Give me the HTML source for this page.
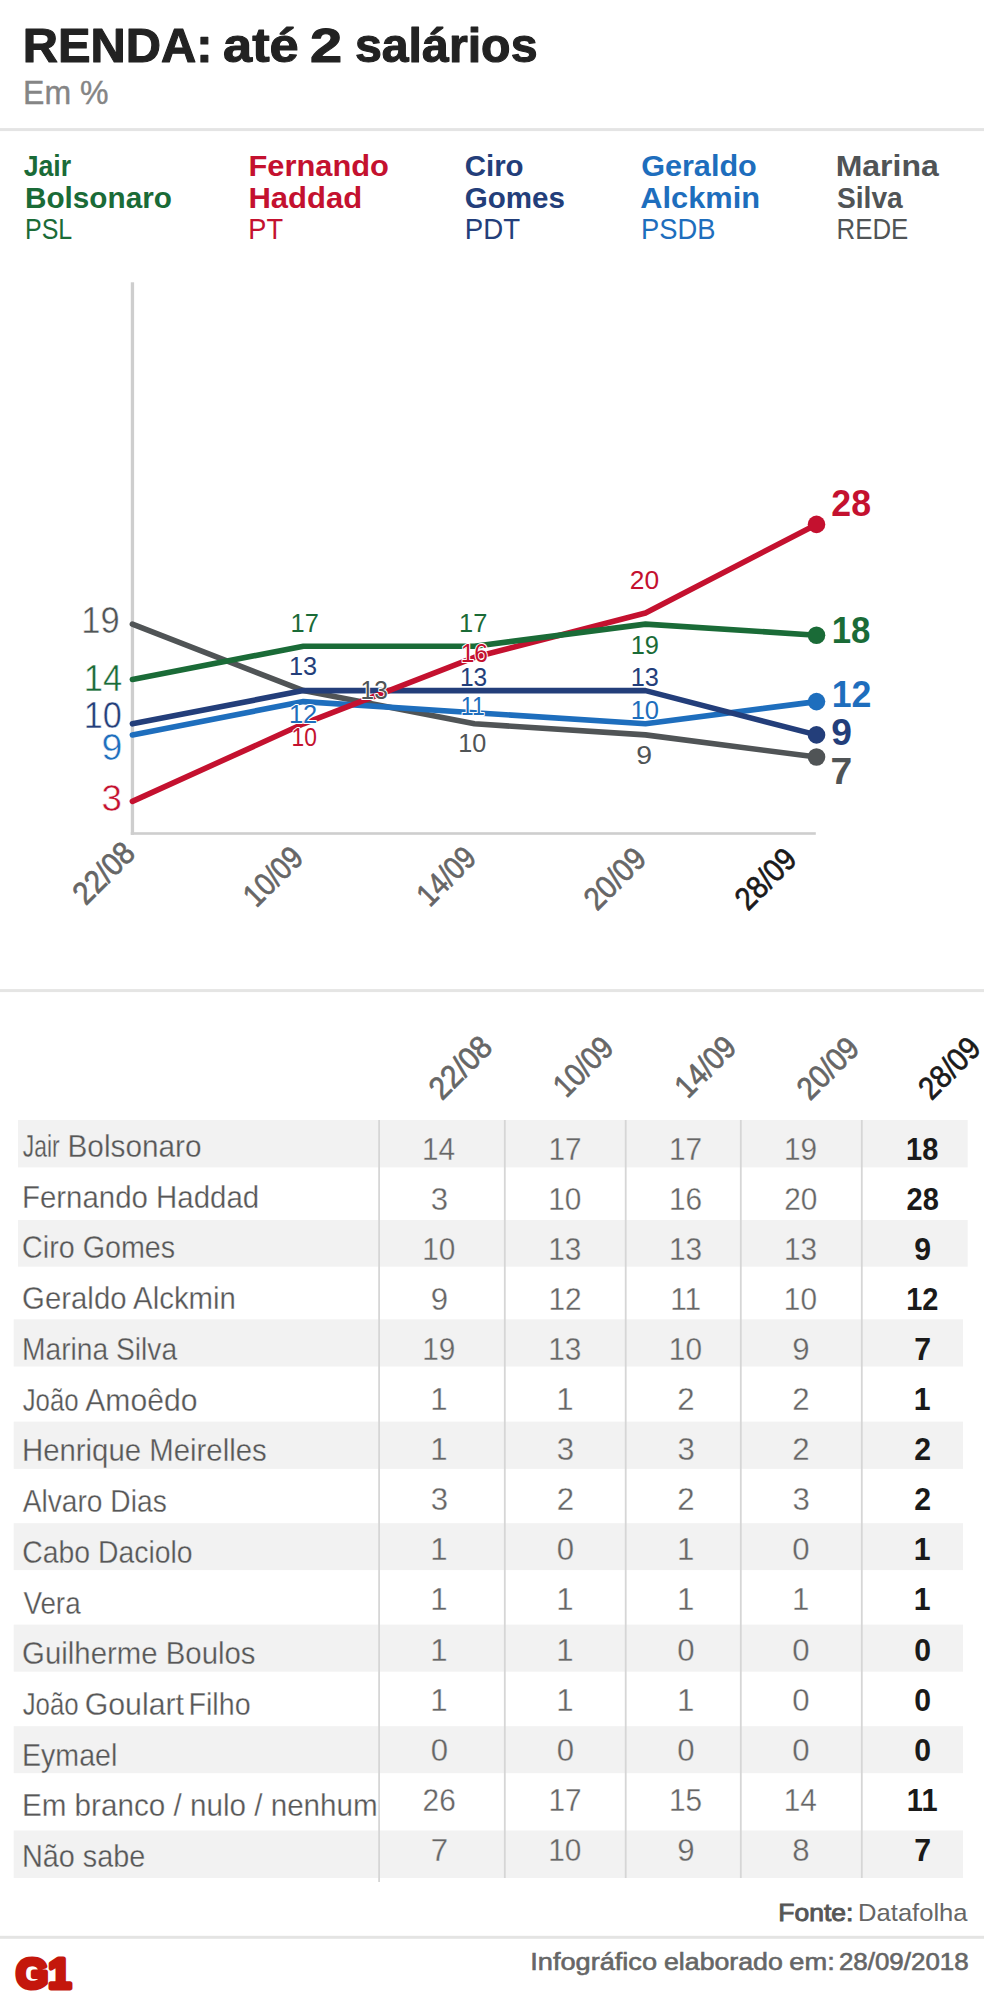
<!DOCTYPE html>
<html lang="pt-BR"><head><meta charset="utf-8"><title>RENDA: até 2 salários</title>
<style>
html,body{margin:0;padding:0;background:#fff;}
body{width:984px;height:2012px;overflow:hidden;}
svg{display:block;font-family:"Liberation Sans",sans-serif;}
.b{font-weight:bold;}
.ol{paint-order:stroke;stroke:#fff;stroke-width:2.1px;stroke-linejoin:round;}
.hv{paint-order:stroke;stroke:#222;stroke-width:1.1px;stroke-linejoin:round;}
</style></head><body>
<svg width="984" height="2012" viewBox="0 0 984 2012">
<rect width="984" height="2012" fill="#fff"/>
<text y="62.2" font-size="48.8" fill="#222" class="b hv"><tspan x="22.75" textLength="189.83" lengthAdjust="spacingAndGlyphs">RENDA:</tspan> <tspan x="223.02" textLength="75.68" lengthAdjust="spacingAndGlyphs">até</tspan> <tspan x="310.07" textLength="32.13" lengthAdjust="spacingAndGlyphs">2</tspan> <tspan x="354.89" textLength="182.63" lengthAdjust="spacingAndGlyphs">salários</tspan></text>
<text x="23.08" y="104" font-size="33.4" fill="#858585" textLength="85.51" lengthAdjust="spacingAndGlyphs" stroke="#858585" stroke-width="0.4">Em %</text>
<rect x="0" y="128.1" width="984" height="3" fill="#e4e4e4"/>
<text x="23.67" y="176" font-size="30.2" fill="#1a6b37" class="b" textLength="47.53" lengthAdjust="spacingAndGlyphs">Jair</text>
<text x="25.04" y="207.5" font-size="30.2" fill="#1a6b37" class="b" textLength="146.83" lengthAdjust="spacingAndGlyphs">Bolsonaro</text>
<text x="25.04" y="239.2" font-size="30.2" fill="#1a6b37" textLength="47.23" lengthAdjust="spacingAndGlyphs">PSL</text>
<text x="248.46" y="176" font-size="30.2" fill="#c4112f" class="b" textLength="140.42" lengthAdjust="spacingAndGlyphs">Fernando</text>
<text x="248.45" y="207.5" font-size="30.2" fill="#c4112f" class="b" textLength="113.83" lengthAdjust="spacingAndGlyphs">Haddad</text>
<text x="248.37" y="239.2" font-size="30.2" fill="#c4112f" textLength="34.72" lengthAdjust="spacingAndGlyphs">PT</text>
<text x="464.70" y="176" font-size="30.2" fill="#233e7a" class="b" textLength="58.89" lengthAdjust="spacingAndGlyphs">Ciro</text>
<text x="464.70" y="207.5" font-size="30.2" fill="#233e7a" class="b" textLength="100.25" lengthAdjust="spacingAndGlyphs">Gomes</text>
<text x="464.83" y="239.2" font-size="30.2" fill="#233e7a" textLength="55.24" lengthAdjust="spacingAndGlyphs">PDT</text>
<text x="641.16" y="176" font-size="30.2" fill="#1e6ebd" class="b" textLength="115.61" lengthAdjust="spacingAndGlyphs">Geraldo</text>
<text x="640.24" y="207.5" font-size="30.2" fill="#1e6ebd" class="b" textLength="119.80" lengthAdjust="spacingAndGlyphs">Alckmin</text>
<text x="641.05" y="239.2" font-size="30.2" fill="#1e6ebd" textLength="74.40" lengthAdjust="spacingAndGlyphs">PSDB</text>
<text x="835.68" y="176" font-size="30.2" fill="#505456" class="b" textLength="103.15" lengthAdjust="spacingAndGlyphs">Marina</text>
<text x="836.98" y="207.5" font-size="30.2" fill="#505456" class="b" textLength="65.79" lengthAdjust="spacingAndGlyphs">Silva</text>
<text x="836.57" y="239.2" font-size="30.2" fill="#505456" textLength="71.72" lengthAdjust="spacingAndGlyphs">REDE</text>
<rect x="130.8" y="282.3" width="3.3" height="552.5" fill="#cecece"/>
<rect x="130.8" y="832.2" width="685" height="2.6" fill="#cecece"/>
<polyline points="132.4,624.1 303.4,690.6 474.5,723.8 645.5,734.9 816.5,757.0" fill="none" stroke="#505456" stroke-width="5.6" stroke-linejoin="round" stroke-linecap="round"/>
<polyline points="132.4,734.9 303.4,701.6 474.5,712.7 645.5,723.8 816.5,701.6" fill="none" stroke="#1e6ebd" stroke-width="5.6" stroke-linejoin="round" stroke-linecap="round"/>
<polyline points="132.4,723.8 303.4,690.6 474.5,690.6 645.5,690.6 816.5,734.9" fill="none" stroke="#233e7a" stroke-width="5.6" stroke-linejoin="round" stroke-linecap="round"/>
<polyline points="132.4,801.4 303.4,723.8 474.5,657.3 645.5,613.0 816.5,524.4" fill="none" stroke="#c4112f" stroke-width="5.6" stroke-linejoin="round" stroke-linecap="round"/>
<polyline points="132.4,679.5 303.4,646.2 474.5,646.2 645.5,624.1 816.5,635.2" fill="none" stroke="#1a6b37" stroke-width="5.6" stroke-linejoin="round" stroke-linecap="round"/>
<circle cx="816.5" cy="757.0" r="8.8" fill="#505456"/>
<circle cx="816.5" cy="701.6" r="8.8" fill="#1e6ebd"/>
<circle cx="816.5" cy="734.9" r="8.8" fill="#233e7a"/>
<circle cx="816.5" cy="524.4" r="8.8" fill="#c4112f"/>
<circle cx="816.5" cy="635.2" r="8.8" fill="#1a6b37"/>
<text x="81.25" y="633" font-size="37.2" fill="#505456" textLength="38.41" lengthAdjust="spacingAndGlyphs" stroke="#fff" stroke-width="0.5">19</text>
<text x="83.75" y="690.5" font-size="37.2" fill="#1a6b37" textLength="38.43" lengthAdjust="spacingAndGlyphs" stroke="#fff" stroke-width="0.5">14</text>
<text x="83.78" y="728" font-size="37.2" fill="#233e7a" textLength="38.02" lengthAdjust="spacingAndGlyphs" stroke="#fff" stroke-width="0.5">10</text>
<text x="101.46" y="760" font-size="37.2" fill="#1e6ebd" textLength="20.87" lengthAdjust="spacingAndGlyphs" stroke="#fff" stroke-width="0.5">9</text>
<text x="101.44" y="811" font-size="37.2" fill="#c4112f" textLength="20.43" lengthAdjust="spacingAndGlyphs" stroke="#fff" stroke-width="0.5">3</text>
<text x="290.56" y="632" font-size="26.2" fill="#1a6b37" class="ol" textLength="28.30" lengthAdjust="spacingAndGlyphs">17</text>
<text x="288.97" y="674.8" font-size="26.2" fill="#233e7a" class="ol" textLength="28.17" lengthAdjust="spacingAndGlyphs">13</text>
<text x="288.96" y="723.2" font-size="26.2" fill="#1e6ebd" class="ol" textLength="28.30" lengthAdjust="spacingAndGlyphs">12</text>
<text x="291.56" y="746" font-size="26.2" fill="#c4112f" class="ol" textLength="25.36" lengthAdjust="spacingAndGlyphs">10</text>
<text x="360.53" y="698.5" font-size="26.2" fill="#505456" class="ol" textLength="27.27" lengthAdjust="spacingAndGlyphs">13</text>
<text x="459.06" y="632" font-size="26.2" fill="#1a6b37" class="ol" textLength="28.30" lengthAdjust="spacingAndGlyphs">17</text>
<text x="460.73" y="662.3" font-size="26.2" fill="#c4112f" class="ol" textLength="27.27" lengthAdjust="spacingAndGlyphs">16</text>
<text x="459.93" y="685.6" font-size="26.2" fill="#233e7a" class="ol" textLength="27.27" lengthAdjust="spacingAndGlyphs">13</text>
<text x="460.84" y="714.8" font-size="26.2" fill="#1e6ebd" class="ol" textLength="23.96" lengthAdjust="spacingAndGlyphs">11</text>
<text x="458.28" y="751.7" font-size="26.2" fill="#505456" class="ol" textLength="28.03" lengthAdjust="spacingAndGlyphs">10</text>
<text x="629.75" y="588.9" font-size="26.2" fill="#c4112f" class="ol" textLength="29.31" lengthAdjust="spacingAndGlyphs">20</text>
<text x="630.66" y="653.5" font-size="26.2" fill="#1a6b37" class="ol" textLength="28.30" lengthAdjust="spacingAndGlyphs">19</text>
<text x="630.67" y="685.7" font-size="26.2" fill="#233e7a" class="ol" textLength="28.17" lengthAdjust="spacingAndGlyphs">13</text>
<text x="630.66" y="719" font-size="26.2" fill="#1e6ebd" class="ol" textLength="28.36" lengthAdjust="spacingAndGlyphs">10</text>
<text x="636.28" y="764.4" font-size="26.2" fill="#505456" class="ol" textLength="15.85" lengthAdjust="spacingAndGlyphs">9</text>
<text x="831.30" y="516.2" font-size="37.2" fill="#c4112f" class="b" textLength="39.71" lengthAdjust="spacingAndGlyphs">28</text>
<text x="831.70" y="643.1" font-size="37.2" fill="#1a6b37" class="b" textLength="38.69" lengthAdjust="spacingAndGlyphs">18</text>
<text x="831.64" y="706.9" font-size="37.2" fill="#1e6ebd" class="b" textLength="39.73" lengthAdjust="spacingAndGlyphs">12</text>
<text x="831.25" y="744.8" font-size="37.2" fill="#233e7a" class="b" textLength="20.69" lengthAdjust="spacingAndGlyphs">9</text>
<text x="830.53" y="784.4" font-size="37.2" fill="#505456" class="b" textLength="21.75" lengthAdjust="spacingAndGlyphs">7</text>
<text transform="translate(137.0,855.0) rotate(-45)" font-size="32" fill="#666" stroke="#666" stroke-width="0.7" text-anchor="end" textLength="72.46" lengthAdjust="spacingAndGlyphs">22/08</text>
<text transform="translate(305.0,859.75) rotate(-45)" font-size="32" fill="#666" stroke="#666" stroke-width="0.7" text-anchor="end" textLength="68.86" lengthAdjust="spacingAndGlyphs">10/09</text>
<text transform="translate(478.0,859.75) rotate(-45)" font-size="32" fill="#666" stroke="#666" stroke-width="0.7" text-anchor="end" textLength="68.24" lengthAdjust="spacingAndGlyphs">14/09</text>
<text transform="translate(648.0,860.75) rotate(-45)" font-size="32" fill="#666" stroke="#666" stroke-width="0.7" text-anchor="end" textLength="72.14" lengthAdjust="spacingAndGlyphs">20/09</text>
<text transform="translate(798.5,861.25) rotate(-45)" font-size="32" fill="#1a1a1a" stroke="#1a1a1a" stroke-width="0.7" text-anchor="end" textLength="71.51" lengthAdjust="spacingAndGlyphs">28/09</text>
<rect x="0" y="989.1" width="984" height="3" fill="#e5e5e4"/>
<rect x="18" y="1120" width="949.7" height="47.4" fill="#f2f2f2"/>
<rect x="18" y="1220" width="949.7" height="46.7" fill="#f2f2f2"/>
<rect x="13.7" y="1319.3" width="949.3" height="47.2" fill="#f2f2f2"/>
<rect x="13.7" y="1421.6" width="949.3" height="47.3" fill="#f2f2f2"/>
<rect x="13.7" y="1523.2" width="949.3" height="46.9" fill="#f2f2f2"/>
<rect x="13.7" y="1624.6" width="949.3" height="47.1" fill="#f2f2f2"/>
<rect x="13.7" y="1726.2" width="949.3" height="47.0" fill="#f2f2f2"/>
<rect x="13.7" y="1830.5" width="949.3" height="47.5" fill="#f2f2f2"/>
<rect x="378.2" y="1120" width="1.8" height="762.0" fill="#d6d6d6"/>
<rect x="503.9" y="1120" width="1.8" height="758.0" fill="#d6d6d6"/>
<rect x="624.8" y="1120" width="1.8" height="758.0" fill="#d6d6d6"/>
<rect x="739.9" y="1120" width="1.8" height="758.0" fill="#d6d6d6"/>
<rect x="860.9" y="1120" width="1.8" height="758.0" fill="#d6d6d6"/>
<text y="1157.0" font-size="31.2" fill="#575757" stroke="#f2f2f2" stroke-width="0.3"><tspan x="22.72" textLength="36.93" lengthAdjust="spacingAndGlyphs">Jair</tspan> <tspan x="67.52" textLength="134.04" lengthAdjust="spacingAndGlyphs">Bolsonaro</tspan></text>
<text x="422.02" y="1159.5" font-size="31.2" fill="#666" textLength="33.14" lengthAdjust="spacingAndGlyphs" stroke="#f2f2f2" stroke-width="0.3">14</text>
<text x="548.42" y="1159.5" font-size="31.2" fill="#666" textLength="33.14" lengthAdjust="spacingAndGlyphs" stroke="#f2f2f2" stroke-width="0.3">17</text>
<text x="669.02" y="1159.5" font-size="31.2" fill="#666" textLength="33.14" lengthAdjust="spacingAndGlyphs" stroke="#f2f2f2" stroke-width="0.3">17</text>
<text x="783.96" y="1159.5" font-size="31.2" fill="#666" textLength="33.14" lengthAdjust="spacingAndGlyphs" stroke="#f2f2f2" stroke-width="0.3">19</text>
<text x="906.10" y="1159.5" font-size="31.2" fill="#1a1a1a" class="b" textLength="32.27" lengthAdjust="spacingAndGlyphs">18</text>
<text x="21.95" y="1207.7" font-size="31.2" fill="#575757" textLength="237.17" lengthAdjust="spacingAndGlyphs" stroke="#fff" stroke-width="0.3">Fernando Haddad</text>
<text x="430.69" y="1209.6" font-size="31.2" fill="#666" textLength="17.35" lengthAdjust="spacingAndGlyphs" stroke="#fff" stroke-width="0.3">3</text>
<text x="548.24" y="1209.6" font-size="31.2" fill="#666" textLength="33.14" lengthAdjust="spacingAndGlyphs" stroke="#fff" stroke-width="0.3">10</text>
<text x="668.90" y="1209.6" font-size="31.2" fill="#666" textLength="33.14" lengthAdjust="spacingAndGlyphs" stroke="#fff" stroke-width="0.3">16</text>
<text x="784.25" y="1209.6" font-size="31.2" fill="#666" textLength="33.14" lengthAdjust="spacingAndGlyphs" stroke="#fff" stroke-width="0.3">20</text>
<text x="906.51" y="1209.6" font-size="31.2" fill="#1a1a1a" class="b" textLength="32.27" lengthAdjust="spacingAndGlyphs">28</text>
<text x="22.12" y="1258.4" font-size="31.2" fill="#575757" textLength="153.06" lengthAdjust="spacingAndGlyphs" stroke="#f2f2f2" stroke-width="0.3">Ciro Gomes</text>
<text x="422.14" y="1259.7" font-size="31.2" fill="#666" textLength="33.14" lengthAdjust="spacingAndGlyphs" stroke="#f2f2f2" stroke-width="0.3">10</text>
<text x="548.30" y="1259.7" font-size="31.2" fill="#666" textLength="33.14" lengthAdjust="spacingAndGlyphs" stroke="#f2f2f2" stroke-width="0.3">13</text>
<text x="668.90" y="1259.7" font-size="31.2" fill="#666" textLength="33.14" lengthAdjust="spacingAndGlyphs" stroke="#f2f2f2" stroke-width="0.3">13</text>
<text x="783.90" y="1259.7" font-size="31.2" fill="#666" textLength="33.14" lengthAdjust="spacingAndGlyphs" stroke="#f2f2f2" stroke-width="0.3">13</text>
<text x="914.35" y="1259.7" font-size="31.2" fill="#1a1a1a" class="b" textLength="16.83" lengthAdjust="spacingAndGlyphs">9</text>
<text x="22.09" y="1309.2" font-size="31.2" fill="#575757" textLength="213.81" lengthAdjust="spacingAndGlyphs" stroke="#fff" stroke-width="0.3">Geraldo Alckmin</text>
<text x="430.63" y="1309.8" font-size="31.2" fill="#666" textLength="17.35" lengthAdjust="spacingAndGlyphs" stroke="#fff" stroke-width="0.3">9</text>
<text x="548.42" y="1309.8" font-size="31.2" fill="#666" textLength="33.14" lengthAdjust="spacingAndGlyphs" stroke="#fff" stroke-width="0.3">12</text>
<text x="670.15" y="1309.8" font-size="31.2" fill="#666" textLength="30.93" lengthAdjust="spacingAndGlyphs" stroke="#fff" stroke-width="0.3">11</text>
<text x="783.84" y="1309.8" font-size="31.2" fill="#666" textLength="33.14" lengthAdjust="spacingAndGlyphs" stroke="#fff" stroke-width="0.3">10</text>
<text x="906.22" y="1309.8" font-size="31.2" fill="#1a1a1a" class="b" textLength="32.27" lengthAdjust="spacingAndGlyphs">12</text>
<text x="22.04" y="1359.9" font-size="31.2" fill="#575757" textLength="155.10" lengthAdjust="spacingAndGlyphs" stroke="#f2f2f2" stroke-width="0.3">Marina Silva</text>
<text x="422.26" y="1359.9" font-size="31.2" fill="#666" textLength="33.14" lengthAdjust="spacingAndGlyphs" stroke="#f2f2f2" stroke-width="0.3">19</text>
<text x="548.30" y="1359.9" font-size="31.2" fill="#666" textLength="33.14" lengthAdjust="spacingAndGlyphs" stroke="#f2f2f2" stroke-width="0.3">13</text>
<text x="668.84" y="1359.9" font-size="31.2" fill="#666" textLength="33.14" lengthAdjust="spacingAndGlyphs" stroke="#f2f2f2" stroke-width="0.3">10</text>
<text x="792.33" y="1359.9" font-size="31.2" fill="#666" textLength="17.35" lengthAdjust="spacingAndGlyphs" stroke="#f2f2f2" stroke-width="0.3">9</text>
<text x="914.29" y="1359.9" font-size="31.2" fill="#1a1a1a" class="b" textLength="16.83" lengthAdjust="spacingAndGlyphs">7</text>
<text y="1410.6" font-size="31.2" fill="#575757" stroke="#fff" stroke-width="0.3"><tspan x="22.69" textLength="55.95" lengthAdjust="spacingAndGlyphs">João</tspan> <tspan x="85.30" textLength="112.12" lengthAdjust="spacingAndGlyphs">Amoêdo</tspan></text>
<text x="430.19" y="1410.0" font-size="31.2" fill="#666" textLength="17.35" lengthAdjust="spacingAndGlyphs" stroke="#fff" stroke-width="0.3">1</text>
<text x="556.29" y="1410.0" font-size="31.2" fill="#666" textLength="17.35" lengthAdjust="spacingAndGlyphs" stroke="#fff" stroke-width="0.3">1</text>
<text x="677.33" y="1410.0" font-size="31.2" fill="#666" textLength="17.35" lengthAdjust="spacingAndGlyphs" stroke="#fff" stroke-width="0.3">2</text>
<text x="792.33" y="1410.0" font-size="31.2" fill="#666" textLength="17.35" lengthAdjust="spacingAndGlyphs" stroke="#fff" stroke-width="0.3">2</text>
<text x="913.74" y="1410.0" font-size="31.2" fill="#1a1a1a" class="b" textLength="16.83" lengthAdjust="spacingAndGlyphs">1</text>
<text x="21.95" y="1461.3" font-size="31.2" fill="#575757" textLength="244.83" lengthAdjust="spacingAndGlyphs" stroke="#f2f2f2" stroke-width="0.3">Henrique Meirelles</text>
<text x="430.19" y="1460.1" font-size="31.2" fill="#666" textLength="17.35" lengthAdjust="spacingAndGlyphs" stroke="#f2f2f2" stroke-width="0.3">1</text>
<text x="556.79" y="1460.1" font-size="31.2" fill="#666" textLength="17.35" lengthAdjust="spacingAndGlyphs" stroke="#f2f2f2" stroke-width="0.3">3</text>
<text x="677.39" y="1460.1" font-size="31.2" fill="#666" textLength="17.35" lengthAdjust="spacingAndGlyphs" stroke="#f2f2f2" stroke-width="0.3">3</text>
<text x="792.33" y="1460.1" font-size="31.2" fill="#666" textLength="17.35" lengthAdjust="spacingAndGlyphs" stroke="#f2f2f2" stroke-width="0.3">2</text>
<text x="914.35" y="1460.1" font-size="31.2" fill="#1a1a1a" class="b" textLength="16.83" lengthAdjust="spacingAndGlyphs">2</text>
<text x="22.70" y="1512.0" font-size="31.2" fill="#575757" textLength="144.04" lengthAdjust="spacingAndGlyphs" stroke="#fff" stroke-width="0.3">Alvaro Dias</text>
<text x="430.69" y="1510.2" font-size="31.2" fill="#666" textLength="17.35" lengthAdjust="spacingAndGlyphs" stroke="#fff" stroke-width="0.3">3</text>
<text x="556.73" y="1510.2" font-size="31.2" fill="#666" textLength="17.35" lengthAdjust="spacingAndGlyphs" stroke="#fff" stroke-width="0.3">2</text>
<text x="677.33" y="1510.2" font-size="31.2" fill="#666" textLength="17.35" lengthAdjust="spacingAndGlyphs" stroke="#fff" stroke-width="0.3">2</text>
<text x="792.39" y="1510.2" font-size="31.2" fill="#666" textLength="17.35" lengthAdjust="spacingAndGlyphs" stroke="#fff" stroke-width="0.3">3</text>
<text x="914.35" y="1510.2" font-size="31.2" fill="#1a1a1a" class="b" textLength="16.83" lengthAdjust="spacingAndGlyphs">2</text>
<text x="22.14" y="1562.8" font-size="31.2" fill="#575757" textLength="170.48" lengthAdjust="spacingAndGlyphs" stroke="#f2f2f2" stroke-width="0.3">Cabo Daciolo</text>
<text x="430.19" y="1560.3" font-size="31.2" fill="#666" textLength="17.35" lengthAdjust="spacingAndGlyphs" stroke="#f2f2f2" stroke-width="0.3">1</text>
<text x="556.73" y="1560.3" font-size="31.2" fill="#666" textLength="17.35" lengthAdjust="spacingAndGlyphs" stroke="#f2f2f2" stroke-width="0.3">0</text>
<text x="676.89" y="1560.3" font-size="31.2" fill="#666" textLength="17.35" lengthAdjust="spacingAndGlyphs" stroke="#f2f2f2" stroke-width="0.3">1</text>
<text x="792.33" y="1560.3" font-size="31.2" fill="#666" textLength="17.35" lengthAdjust="spacingAndGlyphs" stroke="#f2f2f2" stroke-width="0.3">0</text>
<text x="913.74" y="1560.3" font-size="31.2" fill="#1a1a1a" class="b" textLength="16.83" lengthAdjust="spacingAndGlyphs">1</text>
<text x="23.39" y="1613.5" font-size="31.2" fill="#575757" textLength="57.23" lengthAdjust="spacingAndGlyphs" stroke="#fff" stroke-width="0.3">Vera</text>
<text x="430.19" y="1610.4" font-size="31.2" fill="#666" textLength="17.35" lengthAdjust="spacingAndGlyphs" stroke="#fff" stroke-width="0.3">1</text>
<text x="556.29" y="1610.4" font-size="31.2" fill="#666" textLength="17.35" lengthAdjust="spacingAndGlyphs" stroke="#fff" stroke-width="0.3">1</text>
<text x="676.89" y="1610.4" font-size="31.2" fill="#666" textLength="17.35" lengthAdjust="spacingAndGlyphs" stroke="#fff" stroke-width="0.3">1</text>
<text x="791.89" y="1610.4" font-size="31.2" fill="#666" textLength="17.35" lengthAdjust="spacingAndGlyphs" stroke="#fff" stroke-width="0.3">1</text>
<text x="913.74" y="1610.4" font-size="31.2" fill="#1a1a1a" class="b" textLength="16.83" lengthAdjust="spacingAndGlyphs">1</text>
<text x="22.09" y="1664.2" font-size="31.2" fill="#575757" textLength="233.47" lengthAdjust="spacingAndGlyphs" stroke="#f2f2f2" stroke-width="0.3">Guilherme Boulos</text>
<text x="430.19" y="1660.5" font-size="31.2" fill="#666" textLength="17.35" lengthAdjust="spacingAndGlyphs" stroke="#f2f2f2" stroke-width="0.3">1</text>
<text x="556.29" y="1660.5" font-size="31.2" fill="#666" textLength="17.35" lengthAdjust="spacingAndGlyphs" stroke="#f2f2f2" stroke-width="0.3">1</text>
<text x="677.33" y="1660.5" font-size="31.2" fill="#666" textLength="17.35" lengthAdjust="spacingAndGlyphs" stroke="#f2f2f2" stroke-width="0.3">0</text>
<text x="792.33" y="1660.5" font-size="31.2" fill="#666" textLength="17.35" lengthAdjust="spacingAndGlyphs" stroke="#f2f2f2" stroke-width="0.3">0</text>
<text x="914.35" y="1660.5" font-size="31.2" fill="#1a1a1a" class="b" textLength="16.83" lengthAdjust="spacingAndGlyphs">0</text>
<text y="1714.9" font-size="31.2" fill="#575757" stroke="#fff" stroke-width="0.3"><tspan x="22.69" textLength="55.95" lengthAdjust="spacingAndGlyphs">João</tspan> <tspan x="84.65" textLength="99.37" lengthAdjust="spacingAndGlyphs">Goulart</tspan> <tspan x="188.51" textLength="62.12" lengthAdjust="spacingAndGlyphs">Filho</tspan></text>
<text x="430.19" y="1710.6" font-size="31.2" fill="#666" textLength="17.35" lengthAdjust="spacingAndGlyphs" stroke="#fff" stroke-width="0.3">1</text>
<text x="556.29" y="1710.6" font-size="31.2" fill="#666" textLength="17.35" lengthAdjust="spacingAndGlyphs" stroke="#fff" stroke-width="0.3">1</text>
<text x="676.89" y="1710.6" font-size="31.2" fill="#666" textLength="17.35" lengthAdjust="spacingAndGlyphs" stroke="#fff" stroke-width="0.3">1</text>
<text x="792.33" y="1710.6" font-size="31.2" fill="#666" textLength="17.35" lengthAdjust="spacingAndGlyphs" stroke="#fff" stroke-width="0.3">0</text>
<text x="914.35" y="1710.6" font-size="31.2" fill="#1a1a1a" class="b" textLength="16.83" lengthAdjust="spacingAndGlyphs">0</text>
<text x="22.01" y="1765.6" font-size="31.2" fill="#575757" textLength="95.28" lengthAdjust="spacingAndGlyphs" stroke="#f2f2f2" stroke-width="0.3">Eymael</text>
<text x="430.63" y="1760.7" font-size="31.2" fill="#666" textLength="17.35" lengthAdjust="spacingAndGlyphs" stroke="#f2f2f2" stroke-width="0.3">0</text>
<text x="556.73" y="1760.7" font-size="31.2" fill="#666" textLength="17.35" lengthAdjust="spacingAndGlyphs" stroke="#f2f2f2" stroke-width="0.3">0</text>
<text x="677.33" y="1760.7" font-size="31.2" fill="#666" textLength="17.35" lengthAdjust="spacingAndGlyphs" stroke="#f2f2f2" stroke-width="0.3">0</text>
<text x="792.33" y="1760.7" font-size="31.2" fill="#666" textLength="17.35" lengthAdjust="spacingAndGlyphs" stroke="#f2f2f2" stroke-width="0.3">0</text>
<text x="914.35" y="1760.7" font-size="31.2" fill="#1a1a1a" class="b" textLength="16.83" lengthAdjust="spacingAndGlyphs">0</text>
<text x="21.93" y="1816.4" font-size="31.2" fill="#575757" textLength="355.84" lengthAdjust="spacingAndGlyphs" stroke="#fff" stroke-width="0.3">Em branco / nulo / nenhum</text>
<text x="422.61" y="1810.8" font-size="31.2" fill="#666" textLength="33.14" lengthAdjust="spacingAndGlyphs" stroke="#fff" stroke-width="0.3">26</text>
<text x="548.42" y="1810.8" font-size="31.2" fill="#666" textLength="33.14" lengthAdjust="spacingAndGlyphs" stroke="#fff" stroke-width="0.3">17</text>
<text x="668.90" y="1810.8" font-size="31.2" fill="#666" textLength="33.14" lengthAdjust="spacingAndGlyphs" stroke="#fff" stroke-width="0.3">15</text>
<text x="783.72" y="1810.8" font-size="31.2" fill="#666" textLength="33.14" lengthAdjust="spacingAndGlyphs" stroke="#fff" stroke-width="0.3">14</text>
<text x="906.86" y="1810.8" font-size="31.2" fill="#1a1a1a" class="b" textLength="30.67" lengthAdjust="spacingAndGlyphs">11</text>
<text x="22.00" y="1867.1" font-size="31.2" fill="#575757" textLength="123.29" lengthAdjust="spacingAndGlyphs" stroke="#f2f2f2" stroke-width="0.3">Não sabe</text>
<text x="430.63" y="1860.9" font-size="31.2" fill="#666" textLength="17.35" lengthAdjust="spacingAndGlyphs" stroke="#f2f2f2" stroke-width="0.3">7</text>
<text x="548.24" y="1860.9" font-size="31.2" fill="#666" textLength="33.14" lengthAdjust="spacingAndGlyphs" stroke="#f2f2f2" stroke-width="0.3">10</text>
<text x="677.33" y="1860.9" font-size="31.2" fill="#666" textLength="17.35" lengthAdjust="spacingAndGlyphs" stroke="#f2f2f2" stroke-width="0.3">9</text>
<text x="792.33" y="1860.9" font-size="31.2" fill="#666" textLength="17.35" lengthAdjust="spacingAndGlyphs" stroke="#f2f2f2" stroke-width="0.3">8</text>
<text x="914.29" y="1860.9" font-size="31.2" fill="#1a1a1a" class="b" textLength="16.83" lengthAdjust="spacingAndGlyphs">7</text>
<text transform="translate(494.25,1049.0) rotate(-45)" font-size="32" fill="#666" stroke="#666" stroke-width="0.7" text-anchor="end" textLength="74.07" lengthAdjust="spacingAndGlyphs">22/08</text>
<text transform="translate(615.4,1049.75) rotate(-45)" font-size="32" fill="#666" stroke="#666" stroke-width="0.7" text-anchor="end" textLength="69.47" lengthAdjust="spacingAndGlyphs">10/09</text>
<text transform="translate(738.05,1049.25) rotate(-45)" font-size="32" fill="#666" stroke="#666" stroke-width="0.7" text-anchor="end" textLength="71.1" lengthAdjust="spacingAndGlyphs">14/09</text>
<text transform="translate(861.25,1050.25) rotate(-45)" font-size="32" fill="#666" stroke="#666" stroke-width="0.7" text-anchor="end" textLength="72.46" lengthAdjust="spacingAndGlyphs">20/09</text>
<text transform="translate(982.5,1050.25) rotate(-45)" font-size="32" fill="#1a1a1a" stroke="#1a1a1a" stroke-width="0.7" text-anchor="end" textLength="72.13" lengthAdjust="spacingAndGlyphs">28/09</text>
<text y="1920.8" font-size="24.4" fill="#666"><tspan x="778.33" textLength="74.95" lengthAdjust="spacingAndGlyphs" fill="#555" stroke="#555" stroke-width="0.9">Fonte:</tspan> <tspan x="858.10" textLength="109.47" lengthAdjust="spacingAndGlyphs">Datafolha</tspan></text>
<rect x="0" y="1935.8" width="984" height="3" fill="#e4e4e3"/>
<text y="1970.1" font-size="24.4" fill="#666" stroke="#666" stroke-width="0.6"><tspan x="530.29" textLength="126.76" lengthAdjust="spacingAndGlyphs">Infográfico</tspan> <tspan x="664.00" textLength="118.81" lengthAdjust="spacingAndGlyphs">elaborado</tspan> <tspan x="789.38" textLength="45.40" lengthAdjust="spacingAndGlyphs">em:</tspan> <tspan x="838.90" textLength="129.76" lengthAdjust="spacingAndGlyphs">28/09/2018</tspan></text>
<text x="16.02" y="1988.3" font-size="42.6" fill="#c4170c" class="b" stroke="#c4170c" stroke-width="4.8" stroke-linejoin="round" textLength="55.26" lengthAdjust="spacingAndGlyphs">G1</text>
</svg></body></html>
